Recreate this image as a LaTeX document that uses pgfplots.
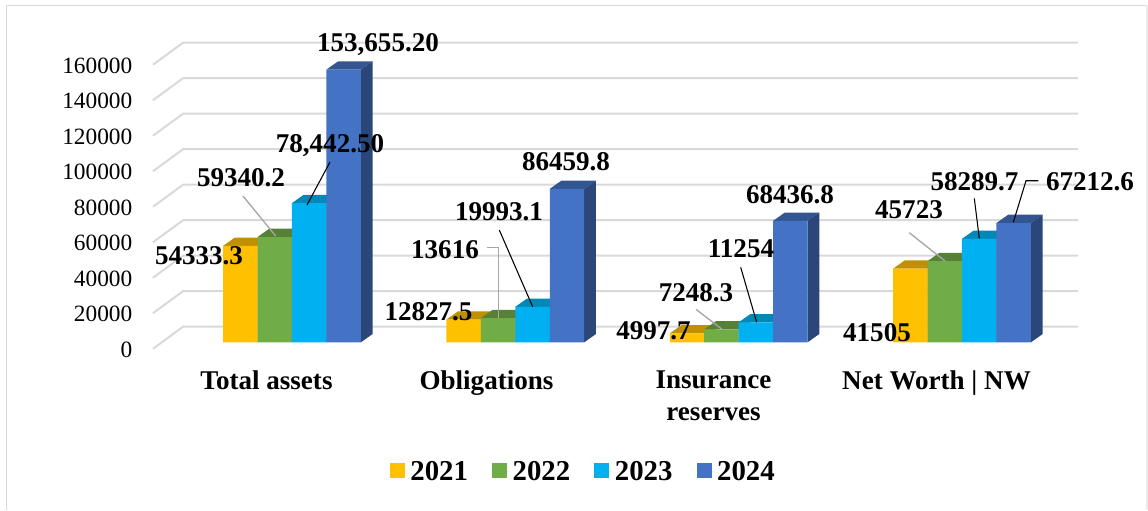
\documentclass[border=0pt]{standalone}
\usepackage{pgfplots}
\pgfplotsset{compat=1.18}
\usepackage{fontspec}
\setmainfont{Liberation Serif}
\definecolor{cA}{HTML}{FFC000}\definecolor{cAt}{HTML}{BF9000}\definecolor{cAs}{HTML}{A67D00}
\definecolor{cB}{HTML}{70AD47}\definecolor{cBt}{HTML}{578137}\definecolor{cBs}{HTML}{4A6E2F}
\definecolor{cC}{HTML}{00B0F0}\definecolor{cCt}{HTML}{0088B9}\definecolor{cCs}{HTML}{00739D}
\definecolor{cD}{HTML}{4472C4}\definecolor{cDt}{HTML}{335693}\definecolor{cDs}{HTML}{2B4779}
\definecolor{gridc}{HTML}{D9D9D9}
\definecolor{leadg}{HTML}{A6A6A6}
% pixel helpers: reference pixels to axis units
\newcommand\PX[1]{\fpeval{((#1)-292)/223.33}}
\newcommand\PY[1]{\fpeval{(342.3-(#1))/0.001775}}
\newcommand\lab[3]{\node[anchor=base,inner sep=0pt,font=\lblfont,text=black] at (axis cs:\PX{#1},\PY{#2+9}) {#3};}
\newcommand\lblfont{\fontsize{20.3}{23.6}\selectfont\bfseries}
\newcommand\gridline[1]{% value #1
  \edef\temp{\noexpand\addplot[draw=gridc,line width=1.5pt,forget plot] coordinates {
    (\PX{153},\fpeval{#1-3606}) (\PX{183},\fpeval{#1+8789}) (\PX{1078},\fpeval{#1+8789})};}\temp}
% top and side face of one bar from its value
\newcommand\faces[4]{% centre x, value, top colour, side colour
  \edef\temp{\noexpand\addplot[fill=#3,draw=none,forget plot] coordinates {
    (\fpeval{#1-0.07713},#2) (\fpeval{#1-0.07713+0.0524},\fpeval{#2+4676}) (\fpeval{#1+0.07713+0.0524},\fpeval{#2+4676}) (\fpeval{#1+0.07713},#2)};
    \noexpand\addplot[fill=#4,draw=none,forget plot] coordinates {
    (\fpeval{#1+0.07713},0) (\fpeval{#1+0.07713+0.0524},4676) (\fpeval{#1+0.07713+0.0524},\fpeval{#2+4676}) (\fpeval{#1+0.07713},#2)};}\temp}
\newcommand\series[7]{% shift, top, side, v0..v3
  \faces{\fpeval{0+#1}}{#4}{#2}{#3}\faces{\fpeval{1+#1}}{#5}{#2}{#3}\faces{\fpeval{2+#1}}{#6}{#2}{#3}\faces{\fpeval{3+#1}}{#7}{#2}{#3}}
\begin{document}
\begin{tikzpicture}
\begin{axis}[
  scale only axis, width=693.75pt, height=213pt,
  xmin=-0.62240, xmax=3.51952, ymin=0, ymax=160000,
  clip=false,
  axis line style={draw=none}, tick style={draw=none},
  ytick={0,20000,...,160000},
  scaled y ticks=false,
  /pgf/number format/assume math mode=true,
  /pgf/number format/fixed,
  /pgf/number format/1000 sep={},
  yticklabel style={font=\fontsize{17.5}{20}\selectfont, text=black, anchor=east, xshift=-12pt, yshift=-5.5pt},
  xtick={-0.1142,0.871,1.8874,2.886},
  xticklabels={Total assets,Obligations,Insurance\\reserves,Net Worth | NW},
  xticklabel style={font=\lblfont, text=black, align=center, anchor=north, yshift=-18pt},
  legend columns=4,
  legend style={at={(0.4655,-0.455)},anchor=center,draw=none,fill=none,
    font=\fontsize{21.6}{24}\selectfont\bfseries,
    /tikz/every even column/.append style={column sep=16pt}},
  legend image code/.code={\path (0pt,0pt) -- (13.5pt,0pt);\fill[#1] (0pt,-4.5pt) rectangle (11.25pt,6.75pt);},
]
\gridline{0}\gridline{20000}\gridline{40000}\gridline{60000}\gridline{80000}\gridline{100000}\gridline{120000}\gridline{140000}\gridline{160000}
\series{-0.2314}{cAt}{cAs}{54333.3}{12827.5}{4997.7}{41505}
\addplot[ybar,bar width=0.15426,bar shift=-0.2314,fill=cA,draw=none] coordinates {(0,54333.3) (1,12827.5) (2,4997.7) (3,41505)};
\addlegendentry{2021}
\series{-0.0771}{cBt}{cBs}{59340.2}{13616}{7248.3}{45723}
\addplot[ybar,bar width=0.15426,bar shift=-0.0771,fill=cB,draw=none] coordinates {(0,59340.2) (1,13616) (2,7248.3) (3,45723)};
\addlegendentry{2022}
\series{0.0771}{cCt}{cCs}{78442.5}{19993.1}{11254}{58289.7}
\addplot[ybar,bar width=0.15426,bar shift=0.0771,fill=cC,draw=none] coordinates {(0,78442.5) (1,19993.1) (2,11254) (3,58289.7)};
\addlegendentry{2023}
\series{0.2314}{cDt}{cDs}{153655.2}{86459.8}{68436.8}{67212.6}
\addplot[ybar,bar width=0.15426,bar shift=0.2314,fill=cD,draw=none] coordinates {(0,153655.2) (1,86459.8) (2,68436.8) (3,67212.6)};
\addlegendentry{2024}
% leader lines
\draw[black,line width=0.8pt] (axis cs:\PX{330},\PY{162}) -- (axis cs:\PX{307},\PY{205});
\draw[leadg,line width=1pt] (axis cs:\PX{243},\PY{196}) -- (axis cs:\PX{275.7},\PY{236});
\draw[leadg,line width=1pt] (axis cs:\PX{486.7},\PY{247.7}) -- (axis cs:\PX{498.3},\PY{247.7}) -- (axis cs:\PX{498.3},\PY{317.7});
\draw[black,line width=0.8pt] (axis cs:\PX{499.3},\PY{230}) -- (axis cs:\PX{532.7},\PY{306.7});
\draw[leadg,line width=1pt] (axis cs:\PX{696},\PY{309.3}) -- (axis cs:\PX{721.7},\PY{329});
\draw[black,line width=0.8pt] (axis cs:\PX{740.7},\PY{267.3}) -- (axis cs:\PX{756.7},\PY{322.3});
\draw[leadg,line width=1pt] (axis cs:\PX{909.3},\PY{232.7}) -- (axis cs:\PX{945},\PY{261});
\draw[black,line width=0.8pt] (axis cs:\PX{974.3},\PY{198.3}) -- (axis cs:\PX{979.3},\PY{238.3});
\draw[black,line width=0.8pt] (axis cs:\PX{1038.3},\PY{180.7}) -- (axis cs:\PX{1026},\PY{180.7}) -- (axis cs:\PX{1013.3},\PY{222.3});
% data labels
\lab{378}{42}{153,655.20}
\lab{330}{143}{78,442.50}
\lab{241}{177}{59340.2}
\lab{199}{255}{54333.3}
\lab{566}{161}{86459.8}
\lab{499}{211}{19993.1}
\lab{445}{249}{13616}
\lab{428.5}{311}{12827.5}
\lab{790}{194}{68436.8}
\lab{741}{248}{11254}
\lab{696}{292}{7248.3}
\lab{653.5}{330}{4997.7}
\lab{877}{332}{41505}
\lab{909}{209}{45723}
\lab{974.5}{181}{58289.7}
\lab{1090}{181}{67212.6}
% frame and page
\draw[gridc,line width=1.3pt] (axis cs:\PX{6.5},\PY{510}) -- (axis cs:\PX{6.5},\PY{5.5}) -- (axis cs:\PX{1147},\PY{5.5});
\draw[gridc!50,line width=0.8pt] (axis cs:\PX{1147},\PY{5.5}) -- (axis cs:\PX{1147},\PY{510});
\end{axis}
\useasboundingbox (-114.75pt,-122pt) rectangle (746.25pt,256.75pt);
\end{tikzpicture}
\end{document}
